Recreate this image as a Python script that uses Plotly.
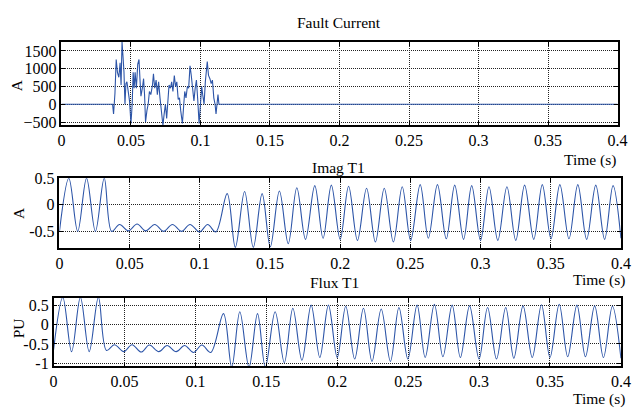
import plotly.graph_objects as go

W, H = 640, 415

# ---- Fault current (A): sampled waveform ----
fault_t = [0.0, 0.0368, 0.0375, 0.0385, 0.0394, 0.0403, 0.0413, 0.0422, 0.0429, 0.0436,
           0.0443, 0.0450, 0.0457, 0.0464, 0.0471, 0.0481, 0.0490, 0.0500, 0.0509, 0.0516,
           0.0523, 0.0530, 0.0539, 0.0549, 0.0558, 0.0566, 0.0572, 0.0582, 0.0591, 0.0598,
           0.0605, 0.0615, 0.0624, 0.0633, 0.0643, 0.0655, 0.0662, 0.0671, 0.0681, 0.0690,
           0.0699, 0.0709, 0.0718, 0.0730, 0.0739, 0.0748, 0.0757, 0.0765, 0.0774, 0.0784,
           0.0793, 0.0802, 0.0812, 0.0821, 0.0830, 0.0840, 0.0849, 0.0858, 0.0870, 0.0880,
           0.0887, 0.0896, 0.0906, 0.0915, 0.0925, 0.0934, 0.0943, 0.0953, 0.0962, 0.0971,
           0.0981, 0.0990, 0.1000, 0.1009, 0.1016, 0.1026, 0.1035, 0.1042, 0.1049, 0.1058,
           0.1068, 0.1077, 0.1086, 0.1096, 0.1105, 0.1112, 0.1119, 0.1126, 0.1133, 0.4]
fault_a = [0, 0, -270, 300, 1260, 900, 760, 1170, 540, 1750,
           1350, 900, 0, 580, 630, 270, 90, -540, 0, 900,
           450, 900, 450, 1130, 1260, 630, 225, 450, 720, 270,
           -500, -180, 0, 360, 270, 540, 860, 450, 680, 270,
           630, 180, -180, -590, -270, 0, -400, 0, 540, 450,
           630, 360, 810, 500, 630, 135, 180, -180, -540, 0,
           360, 180, 500, 450, 1080, 810, 450, 90, 450, 680,
           90, -540, 0, 500, 270, 0, 630, 900, 1200, 810,
           720, 580, 680, 180, 0, -270, 90, 270, 0, 0]

# ---- Magnetising current T1 (A): extrema of the waveform ----
imag_t = [0.0, 0.0067, 0.0130, 0.0193, 0.0256, 0.0319, 0.0372,
          0.0428, 0.0491, 0.0553, 0.0614, 0.0679, 0.0742, 0.0805, 0.0870, 0.0930, 0.0998,
          0.1056, 0.1114,
          0.1195, 0.1253, 0.1319, 0.1381, 0.1444, 0.1502, 0.1567, 0.1630, 0.1691, 0.1753,
          0.1819, 0.1878, 0.1937, 0.2000, 0.2060, 0.2123, 0.2188, 0.2251, 0.2314, 0.2379,
          0.2442, 0.2502, 0.2570, 0.2628, 0.2693, 0.2756, 0.2816, 0.2879, 0.2937, 0.3000,
          0.3060, 0.3123, 0.3188, 0.3251, 0.3314, 0.3379, 0.3440, 0.3502, 0.3565, 0.3630,
          0.3693, 0.3756, 0.3821, 0.3884, 0.3944, 0.4000]
imag_a = [-0.50, 0.50, -0.50, 0.50, -0.50, 0.50, -0.50,
          -0.37, -0.49, -0.36, -0.49, -0.37, -0.50, -0.37, -0.50, -0.37, -0.51,
          -0.37, -0.51,
          0.21, -0.80, 0.25, -0.80, 0.21, -0.79, 0.26, -0.73, 0.32, -0.65,
          0.36, -0.63, 0.37, -0.65, 0.35, -0.67, 0.31, -0.70, 0.31, -0.70,
          0.34, -0.67, 0.38, -0.63, 0.38, -0.64, 0.37, -0.65, 0.36, -0.67,
          0.34, -0.67, 0.34, -0.67, 0.37, -0.65, 0.38, -0.64, 0.38, -0.64,
          0.38, -0.65, 0.37, -0.65, 0.36, -0.63]

# ---- Flux T1 (pu): extrema of the waveform ----
flux_t = [0.0, 0.0065, 0.0127, 0.0189, 0.0251, 0.0316, 0.0373,
          0.0429, 0.0495, 0.0553, 0.0618, 0.0675, 0.0742, 0.0800, 0.0864, 0.0924, 0.0986,
          0.1046, 0.1108,
          0.1198, 0.1256, 0.1313, 0.1378, 0.1438, 0.1493, 0.1562, 0.1627, 0.1687, 0.1751,
          0.1816, 0.1877, 0.1938, 0.2000, 0.2060, 0.2123, 0.2185, 0.2245, 0.2310, 0.2375,
          0.2435, 0.2498, 0.2563, 0.2620, 0.2685, 0.2745, 0.2810, 0.2868, 0.2933, 0.3000,
          0.3060, 0.3123, 0.3188, 0.3245, 0.3310, 0.3375, 0.3440, 0.3500, 0.3565, 0.3625,
          0.3690, 0.3750, 0.3815, 0.3877, 0.3940, 0.4000]
flux_pu = [-0.65, 0.70, -0.70, 0.70, -0.70, 0.70, -0.67,
           -0.52, -0.70, -0.52, -0.71, -0.53, -0.70, -0.54, -0.70, -0.54, -0.72,
           -0.53, -0.72,
           0.28, -1.10, 0.33, -1.10, 0.28, -1.10, 0.33, -0.98, 0.42, -0.92,
           0.50, -0.85, 0.50, -0.85, 0.47, -0.89, 0.42, -0.95, 0.40, -0.95,
           0.44, -0.89, 0.50, -0.85, 0.52, -0.83, 0.50, -0.85, 0.48, -0.89,
           0.44, -0.89, 0.44, -0.87, 0.48, -0.85, 0.51, -0.85, 0.52, -0.83,
           0.50, -0.83, 0.48, -0.85, 0.47, -0.87]

x_ticks = [0, 0.05, 0.1, 0.15, 0.2, 0.25, 0.3, 0.35, 0.4]
x_labels = ["0", "0.05", "0.1", "0.15", "0.2", "0.25", "0.3", "0.35", "0.4"]

LINE = "#2d55a8"
SERIF = "Liberation Serif, Times New Roman, serif"
TICK_FONT = dict(family=SERIF, size=16, color="black")
TEXT_FONT = dict(family=SERIF, size=15.5, color="black")


def px_dom_x(a, b):
    return [a / W, b / W]


def px_dom_y(top, bottom):
    return [1 - bottom / H, 1 - top / H]


fig = go.Figure()
fig.add_trace(go.Scatter(x=fault_t, y=fault_a, mode="lines",
                         line=dict(color=LINE, width=1.1), xaxis="x", yaxis="y"))
fig.add_trace(go.Scatter(x=imag_t, y=imag_a, mode="lines",
                         line=dict(color=LINE, width=1.1, shape="spline", smoothing=1.0),
                         xaxis="x2", yaxis="y2"))
fig.add_trace(go.Scatter(x=flux_t, y=flux_pu, mode="lines",
                         line=dict(color=LINE, width=1.1, shape="spline", smoothing=1.0),
                         xaxis="x3", yaxis="y3"))

common_axis = dict(showline=True, linecolor="black", linewidth=1.5, mirror="ticks",
                   ticks="inside", ticklen=4, tickcolor="black", tickwidth=1,
                   showgrid=True, gridcolor="#222", gridwidth=1, griddash="1px,1px",
                   zeroline=False, tickfont=TICK_FONT)

xaxis_common = dict(common_axis, range=[0, 0.4], tickvals=x_ticks, ticktext=x_labels)

panels = [
    # (x left, x right, y top, y bottom) in pixels
    (58.7, 627.3, 35.0, 121.0),
    (56.7, 630.7, 175.7, 248.0),
    (50.7, 630.7, 299.3, 370.0),
]

fig.update_layout(
    width=W, height=H, margin=dict(l=0, r=0, t=0, b=0),
    paper_bgcolor="white", plot_bgcolor="white", showlegend=False,
    font=TICK_FONT,
    xaxis=dict(xaxis_common, domain=px_dom_x(*panels[0][:2]), anchor="y"),
    yaxis=dict(common_axis, domain=px_dom_y(*panels[0][2:]), anchor="x",
               range=[-590, 1755], tickvals=[-500, 0, 500, 1000, 1500]),
    xaxis2=dict(xaxis_common, domain=px_dom_x(*panels[1][:2]), anchor="y2"),
    yaxis2=dict(common_axis, domain=px_dom_y(*panels[1][2:]), anchor="x2",
                range=[-0.817, 0.5], tickvals=[-0.5, 0, 0.5], ticktext=["-0.5", "0", "0.5"]),
    xaxis3=dict(xaxis_common, domain=px_dom_x(*panels[2][:2]), anchor="y3"),
    yaxis3=dict(common_axis, domain=px_dom_y(*panels[2][2:]), anchor="x3",
                range=[-1.08, 0.685], tickvals=[-1, -0.5, 0, 0.5], ticktext=["-1", "-0.5", "0", "0.5"]),
)


def label(text, x, y, xanchor="center", angle=0):
    fig.add_annotation(text=text, x=x / W, y=1 - y / H, xref="paper", yref="paper",
                       xanchor=xanchor, yanchor="middle", showarrow=False,
                       textangle=angle, font=TEXT_FONT)


# titles
label("Fault Current", 342, 15)
label("Imag T1", 342, 165)
label("Flux T1", 338, 283)
# x axis titles
label("Time (s)", 628, 157, xanchor="right")
label("Time (s)", 637, 281, xanchor="right")
label("Time (s)", 637, 404, xanchor="right")
# y axis titles
label("A", 13, 80, angle=-90)
label("A", 15, 212, angle=-90)
label("PU", 15, 331, angle=-90)

fig.write_html("out.html")
